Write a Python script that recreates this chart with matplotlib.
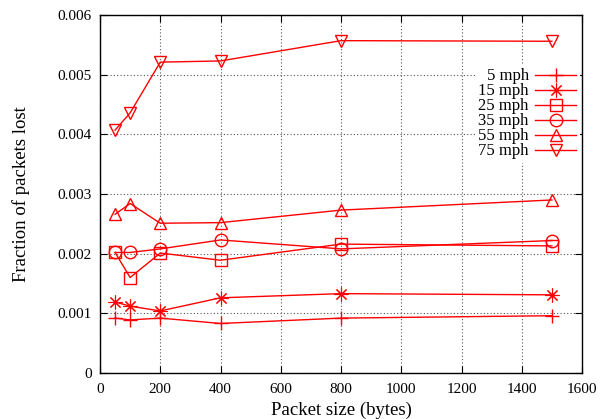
import matplotlib
matplotlib.use("Agg")
import matplotlib.pyplot as plt
from matplotlib.ticker import FuncFormatter

plt.rcParams['font.family'] = ['Liberation Serif', 'DejaVu Serif']

# packet sizes (bytes)
sizes = [50, 100, 200, 400, 800, 1500]

# fraction of packets lost at each speed
loss_5 = [0.00092, 0.00089, 0.00092, 0.00083, 0.00092, 0.00096]
loss_15 = [0.00119, 0.00112, 0.00104, 0.00126, 0.00133, 0.00131]
loss_25 = [0.00202, 0.00160, 0.00201, 0.00189, 0.00216, 0.00213]
loss_35 = [0.00202, 0.00202, 0.00208, 0.00223, 0.00208, 0.00222]
loss_55 = [0.00266, 0.00284, 0.00251, 0.00252, 0.00273, 0.00290]
loss_75 = [0.00407, 0.00436, 0.00521, 0.00523, 0.00557, 0.00556]

labels = ['5 mph', '15 mph', '25 mph', '35 mph', '55 mph', '75 mph']
series = [loss_5, loss_15, loss_25, loss_35, loss_55, loss_75]
# gnuplot-style point types: plus, asterisk, box, circle, triangles
markers = ['+', (8, 2, 0), 's', 'o', '^', 'v']

fig = plt.figure(figsize=(6, 4.19), dpi=100)
ax = fig.add_axes([0.1667, 0.1098, 0.8033, 0.8544])

for vals, lab, mk in zip(series, labels, markers):
    if mk == '+':
        ax.plot(sizes, vals, color='red', lw=1.0, marker=mk, markersize=10,
                markeredgewidth=1.0, label=lab)
    elif mk == 's':
        ax.plot(sizes, vals, color='red', lw=1.0, marker=mk, markersize=8,
                markerfacecolor='none', markeredgewidth=1.0, label=lab)
    elif mk in ('o', '^', 'v'):
        ax.plot(sizes, vals, color='red', lw=1.0, marker=mk, markersize=9,
                markerfacecolor='none', markeredgewidth=1.0, label=lab)
    else:
        ax.plot(sizes, vals, color='red', lw=1.0, marker=mk, markersize=10,
                markerfacecolor='none', markeredgewidth=0.8, label=lab)

ax.set_xlim(0, 1600)
ax.set_ylim(0, 0.006)
ax.set_xticks(range(0, 1601, 200))
ax.set_yticks([0, 0.001, 0.002, 0.003, 0.004, 0.005, 0.006])
ax.yaxis.set_major_formatter(FuncFormatter(lambda v, p: '0' if v == 0 else '%.3f' % v))

ax.grid(True, color='#555555', linestyle=(0, (1, 2)), linewidth=0.8)
ax.tick_params(direction='in', top=True, right=True, length=5, width=0.8, labelsize=11)
ax.tick_params(axis='x', pad=7)
ax.tick_params(axis='y', pad=6)
for s in ax.spines.values():
    s.set_linewidth(1.0)

ax.set_xlabel('Packet size (bytes)', fontsize=13.5, labelpad=4)
ax.set_ylabel('Fraction of packets lost', fontsize=13.5, labelpad=20)

leg = ax.legend(loc='upper right', bbox_to_anchor=(0.995, 0.86), markerfirst=False,
                fontsize=12, handlelength=2.45, labelspacing=-0.06, handletextpad=0.4,
                frameon=True, fancybox=False, borderaxespad=0.0, borderpad=0.2)
leg.get_frame().set_facecolor('white')
leg.get_frame().set_edgecolor('none')
leg.get_frame().set_alpha(1.0)
for t in leg.get_texts():
    t.set_ha('right')

fig.savefig('out.png', dpi=100)
